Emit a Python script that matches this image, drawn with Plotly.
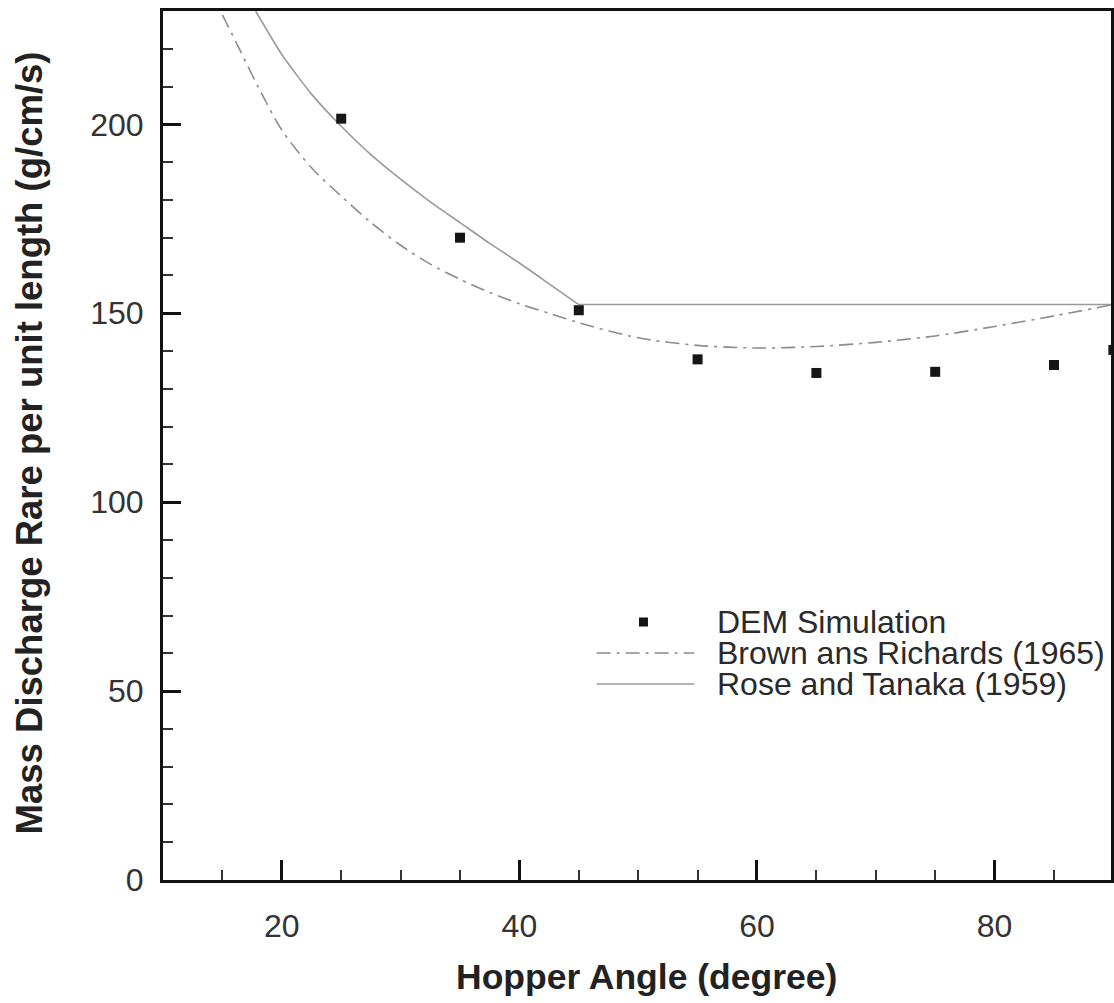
import plotly.graph_objects as go

# ---- data ----
dem_x = [25, 35, 45, 55, 65, 75, 85, 90]
dem_y = [201.5, 170.0, 150.8, 137.8, 134.2, 134.5, 136.3, 140.3]

brown_x = [15, 16.5, 18, 20, 22.5, 25, 27.5, 30, 32.5, 35, 37.5, 40, 42.5, 45,
           50, 55, 60, 65, 70, 75, 80, 85, 90]
brown_y = [229, 219.5, 210, 198.5, 188.5, 181, 174, 168, 163, 159, 155.5, 152.5, 150, 147.5,
           143.5, 141.5, 140.8, 141.2, 142.3, 144, 146.5, 149.3, 152.3]

rose_x = [17.8, 20, 22.5, 25, 27.5, 30, 32.5, 35, 37.5, 40, 42.5, 45, 90]
rose_y = [230, 218.5, 208, 199.5, 192, 185.5, 179.5, 174, 168.5, 163.3, 157.8, 152.3, 152.3]
rose_break = 11  # index where the curve meets the flat part (x = 45)

legend_names = ["DEM Simulation", "Brown ans Richards (1965)", "Rose and Tanaka (1959)"]
x_title = "Hopper Angle (degree)"
y_title = "Mass Discharge Rare per unit length (g/cm/s)"

# ---- layout geometry ----
W, H = 1114, 1003
L, R, T, B = 163, 0, 11, 123
PW, PH = W - L - R, H - T - B
FONT = "Liberation Sans, Arial, sans-serif"
LINE_GREY = "#8c8c8c"
ROSE_GREY = "#9a9a9a"


def px(xp):
    return (xp - L) / PW


def py(yp):
    return (H - B - yp) / PH


fig = go.Figure()
fig.add_trace(go.Scatter(x=brown_x, y=brown_y, mode="lines", name=legend_names[1],
                         line=dict(color=LINE_GREY, width=1.6, dash="14px,6px,3px,6px", shape="spline",
                                   smoothing=0.8),
                         showlegend=False))
fig.add_trace(go.Scatter(x=rose_x[:rose_break + 1], y=rose_y[:rose_break + 1], mode="lines",
                         name=legend_names[2],
                         line=dict(color=ROSE_GREY, width=1.6, shape="spline", smoothing=0.6),
                         showlegend=False))
fig.add_trace(go.Scatter(x=rose_x[rose_break:], y=rose_y[rose_break:], mode="lines",
                         name=legend_names[2],
                         line=dict(color=ROSE_GREY, width=1.6), showlegend=False))
fig.add_trace(go.Scatter(x=dem_x, y=dem_y, mode="markers", name=legend_names[0],
                         marker=dict(symbol="square", size=10, color="#151515"), showlegend=False))

axis_common = dict(showgrid=False, zeroline=False, showline=True, linecolor="#111111", linewidth=3,
                   mirror=True, ticks="inside", tickcolor="#111111", tickwidth=3,
                   tickfont=dict(family=FONT, size=32, color="#333333"))

fig.update_xaxes(range=[10, 89.8], tick0=0, dtick=20, ticklen=20, ticklabelstandoff=16,
                 minor=dict(dtick=5, tick0=0, ticks="inside", ticklen=10, tickwidth=1.5,
                            tickcolor="#333333", showgrid=False),
                 **axis_common)
fig.update_yaxes(range=[0, 230], tick0=0, dtick=50, ticklen=18, ticklabelstandoff=10,
                 minor=dict(dtick=10, tick0=0, ticks="inside", ticklen=10, tickwidth=1.5,
                            tickcolor="#333333", showgrid=False),
                 **axis_common)

# ---- hand-drawn legend (long line samples as in the reference) ----
shapes = [
    dict(type="rect", xref="paper", yref="paper", x0=px(640.5), x1=px(649.5), y0=py(626.5), y1=py(617.5),
         fillcolor="#151515", line=dict(width=0)),
    dict(type="line", xref="paper", yref="paper", x0=px(598), x1=px(696), y0=py(653), y1=py(653),
         line=dict(color=LINE_GREY, width=1.6, dash="14px,6px,3px,6px")),
    dict(type="line", xref="paper", yref="paper", x0=px(598), x1=px(696), y0=py(684), y1=py(684),
         line=dict(color=ROSE_GREY, width=1.6)),
]
annotations = []
for name, yy in zip(legend_names, [622, 653, 684]):
    annotations.append(dict(text=name, xref="paper", yref="paper", x=px(717), y=py(yy),
                            xanchor="left", yanchor="middle", showarrow=False,
                            font=dict(family=FONT, size=32, color="#2a2a2a")))

annotations.append(dict(text=f"<b>{x_title}</b>", xref="paper", yref="paper", x=px(648), y=py(977),
                        xanchor="center", yanchor="middle", showarrow=False,
                        font=dict(family=FONT, size=35.5, color="#222222")))
annotations.append(dict(text=f"<b>{y_title}</b>", xref="paper", yref="paper", x=px(29), y=py(443),
                        xanchor="center", yanchor="middle", showarrow=False, textangle=-90,
                        font=dict(family=FONT, size=36.5, color="#222222")))

fig.update_layout(width=W, height=H, margin=dict(l=L, r=R, t=T, b=B, pad=0),
                  paper_bgcolor="white", plot_bgcolor="white", showlegend=False,
                  shapes=shapes, annotations=annotations)

fig.write_html("out.html", config={"displayModeBar": False},
               post_script="document.body.style.margin='0';document.body.style.overflow='hidden';")
